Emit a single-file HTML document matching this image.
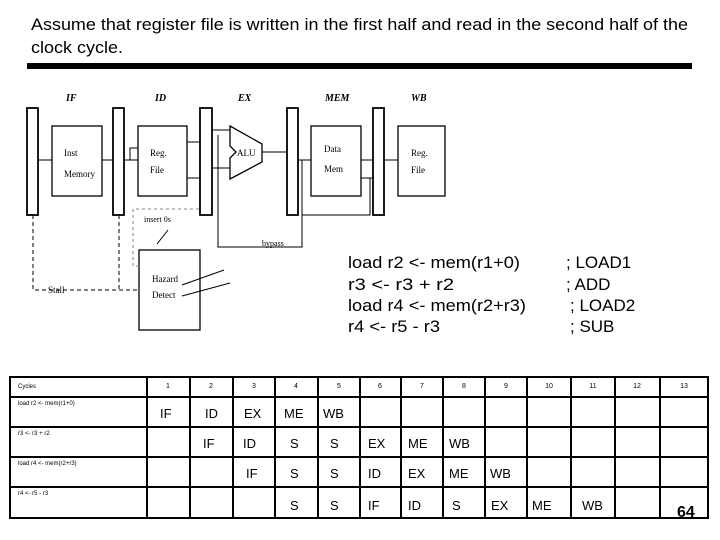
<!DOCTYPE html>
<html><head><meta charset="utf-8"><style>
html,body{margin:0;padding:0;background:#fff;width:720px;height:540px;overflow:hidden}
svg{display:block}
</style></head><body>
<svg width="720" height="540" viewBox="0 0 720 540" xmlns="http://www.w3.org/2000/svg">
<g font-family="Liberation Sans, sans-serif" font-size="17" fill="#000">
<text x="31" y="30" textLength="657" lengthAdjust="spacingAndGlyphs">Assume that register file is written in the first half and read in the second half of the</text>
<text x="31" y="53" textLength="92" lengthAdjust="spacingAndGlyphs">clock cycle.</text>
</g>
<rect x="27" y="63" width="665" height="6" fill="#000"/>
<!-- diagram -->
<g font-family="Liberation Serif, serif" font-size="10" font-style="italic" font-weight="bold">
<text x="66" y="101">IF</text><text x="155" y="101">ID</text><text x="238" y="101">EX</text><text x="325" y="101">MEM</text><text x="411" y="101">WB</text>
</g>
<g fill="#fff" stroke="#000" stroke-width="1.3">
<rect x="27" y="108" width="11" height="107" stroke-width="1.8"/>
<rect x="113" y="108" width="11" height="107" stroke-width="1.8"/>
<rect x="200" y="108" width="12" height="107" stroke-width="1.8"/>
<rect x="287" y="108" width="11" height="107" stroke-width="1.8"/>
<rect x="373" y="108" width="11" height="107" stroke-width="1.8"/>
<rect x="52" y="126" width="50" height="70"/>
<rect x="138" y="126" width="49" height="70"/>
<rect x="311" y="126" width="50" height="70"/>
<rect x="398" y="126" width="47" height="70"/>
<rect x="139" y="250" width="61" height="80"/>
<polygon points="230,126 262,144 262,162 230,179 230,158 236,152 230,146"/>
</g>
<g font-family="Liberation Serif, serif" font-size="9" fill="#000">
<text x="64" y="156">Inst</text><text x="64" y="177">Memory</text>
<text x="150" y="156">Reg.</text><text x="150" y="173">File</text>
<text x="237" y="156">ALU</text>
<text x="324" y="152">Data</text><text x="324" y="172">Mem</text>
<text x="411" y="156">Reg.</text><text x="411" y="173">File</text>
<text x="144" y="222" font-size="8">insert 0s</text>
<text x="262" y="246" font-size="8">bypass</text>
<text x="152" y="282">Hazard</text><text x="152" y="298">Detect</text>
<text x="48" y="293">Stall</text>
</g>
<g stroke="#000" stroke-width="1" fill="none">
<path d="M38 160H52M102 160H113M124 160H138M130 160V148H138M187 142H200M187 178H200M212 130H230M212 168H230M262 152H287M298 160H311M361 160H373M361 178H373M384 160H398"/>
<path d="M218 135V247H302V160M302 160V215H370V178M305 160"/>
<path d="M168 230L157 244M224 270L182 285M230 283L182 296"/>
<path d="M33 215V290H139M119 215V290" stroke-dasharray="4,3"/>
<path d="M139 266H133V209H200" stroke-dasharray="3,3" stroke="#888"/>
</g>
<!-- code -->
<g font-family="Liberation Sans, sans-serif" font-size="17" fill="#000">
<text x="348" y="268" textLength="172" lengthAdjust="spacingAndGlyphs">load r2 &lt;- mem(r1+0)</text>
<text x="348" y="290" textLength="106" lengthAdjust="spacingAndGlyphs">r3 &lt;- r3 + r2</text>
<text x="348" y="311" textLength="178" lengthAdjust="spacingAndGlyphs">load r4 &lt;- mem(r2+r3)</text>
<text x="348" y="332" textLength="92" lengthAdjust="spacingAndGlyphs">r4 &lt;- r5 - r3</text>
<text x="566" y="268">; LOAD1</text>
<text x="566" y="290">; ADD</text>
<text x="570" y="311">; LOAD2</text>
<text x="570" y="332">; SUB</text>
</g>
<!-- table -->
<g stroke="#000" stroke-width="2" fill="none">
<rect x="10" y="377" width="698" height="141"/>
<path d="M10 397H708M10 427H708M10 457H708M10 487H708"/>
<path d="M147 377V518M190 377V518M233 377V518M275 377V518M318 377V518M360 377V518M401 377V518M443 377V518M485 377V518M527 377V518M571 377V518M615 377V518M660 377V518"/>
</g>
<g font-family="Liberation Sans, sans-serif" font-size="7" fill="#000" text-anchor="middle">
<text x="168" y="388">1</text><text x="211" y="388">2</text><text x="254" y="388">3</text><text x="296" y="388">4</text><text x="339" y="388">5</text><text x="380" y="388">6</text><text x="422" y="388">7</text><text x="464" y="388">8</text><text x="506" y="388">9</text><text x="549" y="388">10</text><text x="593" y="388">11</text><text x="637" y="388">12</text><text x="684" y="388">13</text>
</g>
<g font-family="Liberation Sans, sans-serif" font-size="6" fill="#000">
<text x="18" y="388">Cycles</text>
<text x="18" y="405">load r2 &lt;- mem(r1+0)</text>
<text x="18" y="435">r3 &lt;- r3 + r2</text>
<text x="18" y="465">load r4 &lt;- mem(r2+r3)</text>
<text x="18" y="495">r4 &lt;- r5 - r3</text>
</g>
<g font-family="Liberation Sans, sans-serif" font-size="13" fill="#000">
<text x="160" y="418">IF</text><text x="205" y="418">ID</text><text x="244" y="418">EX</text><text x="284" y="418">ME</text><text x="323" y="418">WB</text>
<text x="203" y="448">IF</text><text x="243" y="448">ID</text><text x="290" y="448">S</text><text x="330" y="448">S</text><text x="368" y="448">EX</text><text x="408" y="448">ME</text><text x="449" y="448">WB</text>
<text x="246" y="478">IF</text><text x="290" y="478">S</text><text x="330" y="478">S</text><text x="368" y="478">ID</text><text x="408" y="478">EX</text><text x="449" y="478">ME</text><text x="490" y="478">WB</text>
<text x="290" y="510">S</text><text x="330" y="510">S</text><text x="368" y="510">IF</text><text x="408" y="510">ID</text><text x="452" y="510">S</text><text x="491" y="510">EX</text><text x="532" y="510">ME</text><text x="582" y="510">WB</text>
<text x="677" y="517" font-size="16" font-weight="bold">64</text>
</g>
</svg>
</body></html>
